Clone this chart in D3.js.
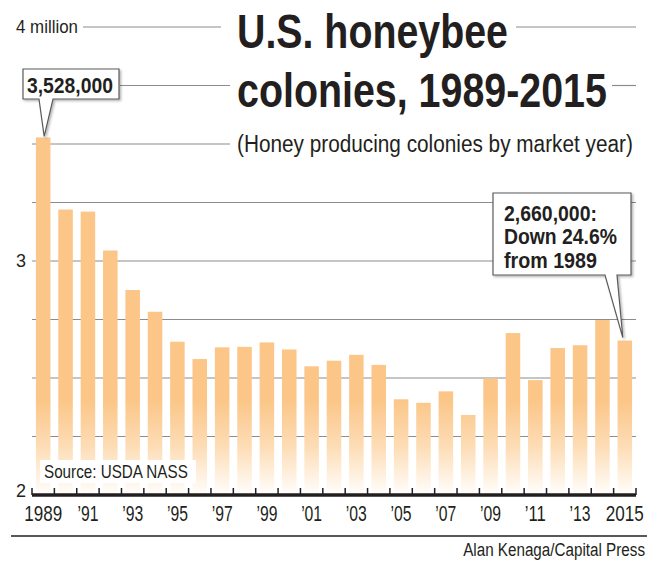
<!DOCTYPE html>
<html>
<head>
<meta charset="utf-8">
<title>U.S. honeybee colonies, 1989-2015</title>
<script src="https://d3js.org/d3.v7.min.js"></script>
<style>
    body { margin: 0; background: #fff; }
    svg text {
        font-family: 'Liberation Sans Narrow', 'Arial Narrow', 'Liberation Sans', Arial, sans-serif;
        fill: #231f20;
    }
    .grid { stroke: #8c8c8c; stroke-width: 1.2; }
    .callout { fill: #fff; stroke: #5a5a5a; stroke-width: 1.2; }
</style>
</head>
<body>
<div id="chart"></div>
<script>
// data (millions of colonies)
const years = [1989, 1990, 1991, 1992, 1993, 1994, 1995, 1996, 1997, 1998, 1999, 2000, 2001, 2002,
    2003, 2004, 2005, 2006, 2007, 2008, 2009, 2010, 2011, 2012, 2013, 2014, 2015];
const colonies = [3.528, 3.220, 3.211, 3.045, 2.876, 2.783, 2.655, 2.581, 2.631, 2.633, 2.652, 2.622,
    2.550, 2.574, 2.599, 2.556, 2.409, 2.394, 2.443, 2.342, 2.498, 2.692, 2.491, 2.628, 2.640, 2.748, 2.660];
const tickYears = [1989, 1991, 1993, 1995, 1997, 1999, 2001, 2003, 2005, 2007, 2009, 2011, 2013, 2015];
const tickLabels = ["1989", "\u201991", "\u201993", "\u201995", "\u201997", "\u201999", "\u201901",
    "\u201903", "\u201905", "\u201907", "\u201909", "\u201911", "\u201913", "2015"];
const gridValues = [2.25, 2.5, 2.75, 3, 3.25, 3.5, 3.75, 4];
const yLabelValues = [4, 3, 2];
const yLabelTexts = ["4 million", "3", "2"];
const firstNote = ["3,528,000"];
const lastNote = ["2,660,000:", "Down 24.6%", "from 1989"];

const W = 665, H = 563;
const plotLeft = 32, plotRight = 636, plotBase = 495, plotTop = 27;

const svg = d3.select("#chart").append("svg")
    .attr("width", W).attr("height", H);

// squeeze a text horizontally to a given width (condensed look), scaling about its x anchor
function fit(sel, width) {
    sel.each(function() {
        const t = d3.select(this);
        const w = this.getComputedTextLength();
        if (!w || w <= width) return;
        const ax = +t.attr("x");
        t.attr("transform", `translate(${ax},0) scale(${width / w},1) translate(${-ax},0)`);
    });
    return sel;
}

const defs = svg.append("defs");
const grad = defs.append("linearGradient")
    .attr("id", "fade")
    .attr("gradientUnits", "userSpaceOnUse")
    .attr("x1", 0).attr("x2", 0).attr("y1", 400).attr("y2", 492);
grad.append("stop").attr("offset", 0).attr("stop-color", "#fbc688");
grad.append("stop").attr("offset", 0.5).attr("stop-color", "#fddcb5");
grad.append("stop").attr("offset", 1).attr("stop-color", "#fffcf8");

defs.append("filter").attr("id", "shadow")
    .attr("x", "-10%").attr("y", "-10%").attr("width", "130%").attr("height", "130%")
    .append("feDropShadow")
    .attr("dx", 1.5).attr("dy", 1.5).attr("stdDeviation", 1)
    .attr("flood-color", "#000").attr("flood-opacity", 0.3);

// scales
const x = d3.scaleBand()
    .domain(years)
    .range([plotLeft, plotRight])
    .paddingInner(0.35)
    .paddingOuter(0.175);

const y = d3.scaleLinear()
    .domain([2, 4])
    .range([plotBase, plotTop]);

const bw = x.bandwidth();

// gridlines, broken around the title block
function gridSegments(v) {
    if (v === 4) return [[83, 221], [516, plotRight]];
    if (v === 3.75) return [[120, 230], [612, plotRight]];
    if (v === 3.5) return [[plotLeft, 230]];
    return [[plotLeft, plotRight]];
}
gridValues.forEach(v => {
    gridSegments(v).forEach(s => {
        svg.append("line")
            .attr("class", "grid")
            .attr("x1", s[0]).attr("x2", s[1])
            .attr("y1", y(v)).attr("y2", y(v));
    });
});

// y labels
svg.selectAll(".ylab")
    .data(yLabelValues)
    .enter().append("text")
    .attr("class", "ylab")
    .attr("x", 16)
    .attr("y", d => y(d) + (d === 2 ? -4 : 0))
    .attr("dy", "0.35em")
    .style("font-size", "18px")
    .text((d, i) => yLabelTexts[i])
    .each(function(d, i) { if (i === 0) fit(d3.select(this), 62); });

// bars
svg.selectAll(".bar")
    .data(years)
    .enter().append("rect")
    .attr("class", "bar")
    .attr("x", d => x(d))
    .attr("y", (d, i) => y(colonies[i]))
    .attr("width", bw)
    .attr("height", (d, i) => plotBase - y(colonies[i]))
    .attr("fill", "url(#fade)");

// source label
svg.append("rect")
    .attr("x", 40).attr("y", 460).attr("width", 156).attr("height", 23)
    .attr("fill", "#fff");
fit(svg.append("text")
    .attr("x", 44).attr("y", 478)
    .style("font-size", "18px")
    .text("Source: USDA NASS"), 144);

// x axis: baseline + ticks at band boundaries
const bounds = years.map(d => x(d) - x.step() * x.paddingOuter());
bounds.push(plotRight);
svg.selectAll(".xtick")
    .data(bounds)
    .enter().append("line")
    .attr("x1", d => d).attr("x2", d => d)
    .attr("y1", plotBase - 7).attr("y2", plotBase)
    .attr("stroke", "#231f20").attr("stroke-width", 1.5);
svg.append("line")
    .attr("x1", plotLeft).attr("x2", plotRight)
    .attr("y1", plotBase).attr("y2", plotBase)
    .attr("stroke", "#231f20").attr("stroke-width", 3.5);

svg.selectAll(".xlab")
    .data(tickYears)
    .enter().append("text")
    .attr("x", d => x(d) + bw / 2)
    .attr("y", 521)
    .attr("text-anchor", "middle")
    .style("font-size", "22px")
    .text((d, i) => tickLabels[i])
    .each(function(d, i) { fit(d3.select(this), tickLabels[i].length === 4 ? 38 : 21); });

// title block
fit(svg.append("text")
    .attr("x", 237).attr("y", 48)
    .style("font-size", "48px").style("font-weight", "bold")
    .text("U.S. honeybee"), 271);
fit(svg.append("text")
    .attr("x", 237).attr("y", 107)
    .style("font-size", "48px").style("font-weight", "bold")
    .text("colonies, 1989-2015"), 370);
fit(svg.append("text")
    .attr("x", 237).attr("y", 152)
    .style("font-size", "23px")
    .text("(Honey producing colonies by market year)"), 396);

// callouts: box with pointer to bar top
function callout(bx0, by0, bx1, by1, px0, px1, tip) {
    const p = `M${bx0},${by0}H${bx1}V${by1}H${px1}L${tip[0]},${tip[1]}L${px0},${by1}H${bx0}Z`;
    svg.append("path").attr("class", "callout").attr("d", p).attr("filter", "url(#shadow)");
}
const i0 = 0, i1 = years.length - 1;
callout(23, 69, 119, 99, 39, 53, [x(years[i0]) + bw / 2 + 1, y(colonies[i0]) - 1]);
fit(svg.append("text")
    .attr("x", 27).attr("y", 93)
    .style("font-size", "22px").style("font-weight", "bold")
    .text(firstNote[0]), 86);

callout(493, 193, 631, 275, 605, 617, [x(years[i1]) + bw / 2 - 2, y(colonies[i1]) - 3]);
const noteLen = [93, 113, 93];
lastNote.forEach((t, i) => {
    fit(svg.append("text")
        .attr("x", 504).attr("y", 221 + i * 23.5)
        .style("font-size", "22px").style("font-weight", "bold")
        .text(t), noteLen[i]);
});

// footer
svg.append("line")
    .attr("x1", 11).attr("x2", 647)
    .attr("y1", 536).attr("y2", 536)
    .attr("stroke", "#231f20").attr("stroke-width", 1.5);
fit(svg.append("text")
    .attr("x", 645).attr("y", 556)
    .attr("text-anchor", "end")
    .style("font-size", "18px")
    .text("Alan Kenaga/Capital Press"), 182);
</script>
</body>
</html>
